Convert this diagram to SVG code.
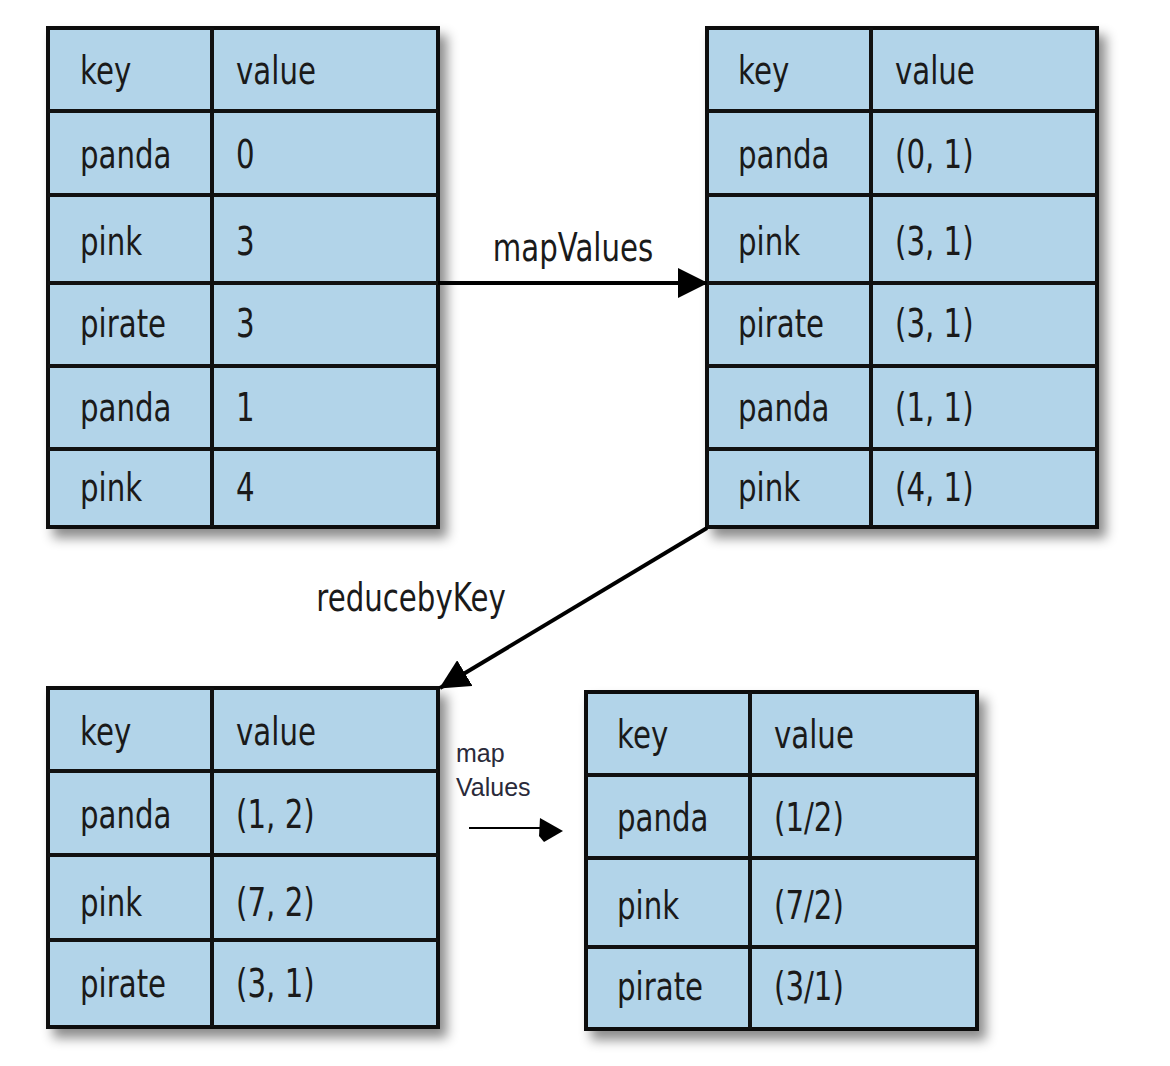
<svg xmlns="http://www.w3.org/2000/svg" width="1170" height="1066" viewBox="0 0 1170 1066">
<defs>
<filter id="sh" x="-10%" y="-10%" width="130%" height="130%">
<feDropShadow dx="7" dy="9" stdDeviation="6" flood-color="#000" flood-opacity="0.45"/>
</filter>
<marker id="ah" markerWidth="30" markerHeight="30" refX="29" refY="15" orient="auto" markerUnits="userSpaceOnUse" viewBox="0 0 30 30">
<path d="M0,0 L30,15 L0,30 Z" fill="#000"/>
</marker>
</defs>
<style>
.cell{fill:#b2d4e9;stroke:#111;stroke-width:4}
.ln{stroke:#111;stroke-width:4}
.t{font-family:"DejaVu Sans",sans-serif;font-size:39px;fill:#1a1a1a}
.lbl{font-family:"DejaVu Sans",sans-serif;font-size:39px;fill:#1a1a1a}
.sm{font-family:"Liberation Sans",Arial,sans-serif;font-size:25px;fill:#2a2a3a}
</style>
<rect width="1170" height="1066" fill="#fff"/>

<g id="table1">
<rect class="cell" x="48" y="28" width="390" height="499" filter="url(#sh)"/>
<line class="ln" x1="212" y1="28" x2="212" y2="527"/>
<line class="ln" x1="48" y1="111" x2="438" y2="111"/>
<line class="ln" x1="48" y1="195" x2="438" y2="195"/>
<line class="ln" x1="48" y1="283" x2="438" y2="283"/>
<line class="ln" x1="48" y1="366" x2="438" y2="366"/>
<line class="ln" x1="48" y1="449" x2="438" y2="449"/>
<g transform="scale(0.75,1)">
<text class="t" x="106.7" y="84">key</text><text class="t" x="314.7" y="84">value</text>
<text class="t" x="106.7" y="168">panda</text><text class="t" x="314.7" y="168">0</text>
<text class="t" x="106.7" y="255">pink</text><text class="t" x="314.7" y="255">3</text>
<text class="t" x="106.7" y="337">pirate</text><text class="t" x="314.7" y="337">3</text>
<text class="t" x="106.7" y="421">panda</text><text class="t" x="314.7" y="421">1</text>
<text class="t" x="106.7" y="501">pink</text><text class="t" x="314.7" y="501">4</text>
</g>
</g>

<g id="table2">
<rect class="cell" x="707" y="28" width="390" height="499" filter="url(#sh)"/>
<line class="ln" x1="871" y1="28" x2="871" y2="527"/>
<line class="ln" x1="707" y1="111" x2="1097" y2="111"/>
<line class="ln" x1="707" y1="195" x2="1097" y2="195"/>
<line class="ln" x1="707" y1="283" x2="1097" y2="283"/>
<line class="ln" x1="707" y1="366" x2="1097" y2="366"/>
<line class="ln" x1="707" y1="449" x2="1097" y2="449"/>
<g transform="scale(0.75,1)">
<text class="t" x="984" y="84">key</text><text class="t" x="1193.3" y="84">value</text>
<text class="t" x="984" y="168">panda</text><text class="t" x="1193.3" y="168">(0, 1)</text>
<text class="t" x="984" y="255">pink</text><text class="t" x="1193.3" y="255">(3, 1)</text>
<text class="t" x="984" y="337">pirate</text><text class="t" x="1193.3" y="337">(3, 1)</text>
<text class="t" x="984" y="421">panda</text><text class="t" x="1193.3" y="421">(1, 1)</text>
<text class="t" x="984" y="501">pink</text><text class="t" x="1193.3" y="501">(4, 1)</text>
</g>
</g>

<g id="table3">
<rect class="cell" x="48" y="688" width="390" height="339" filter="url(#sh)"/>
<line class="ln" x1="212" y1="688" x2="212" y2="1027"/>
<line class="ln" x1="48" y1="771" x2="438" y2="771"/>
<line class="ln" x1="48" y1="855" x2="438" y2="855"/>
<line class="ln" x1="48" y1="940" x2="438" y2="940"/>
<g transform="scale(0.75,1)">
<text class="t" x="106.7" y="745">key</text><text class="t" x="314.7" y="745">value</text>
<text class="t" x="106.7" y="828">panda</text><text class="t" x="314.7" y="828">(1, 2)</text>
<text class="t" x="106.7" y="916">pink</text><text class="t" x="314.7" y="916">(7, 2)</text>
<text class="t" x="106.7" y="997">pirate</text><text class="t" x="314.7" y="997">(3, 1)</text>
</g>
</g>

<g id="table4">
<rect class="cell" x="586" y="692" width="391" height="337" filter="url(#sh)"/>
<line class="ln" x1="750" y1="692" x2="750" y2="1029"/>
<line class="ln" x1="586" y1="775" x2="977" y2="775"/>
<line class="ln" x1="586" y1="858" x2="977" y2="858"/>
<line class="ln" x1="586" y1="947" x2="977" y2="947"/>
<g transform="scale(0.75,1)">
<text class="t" x="822.7" y="748">key</text><text class="t" x="1032" y="748">value</text>
<text class="t" x="822.7" y="831">panda</text><text class="t" x="1032" y="831">(1/2)</text>
<text class="t" x="822.7" y="919">pink</text><text class="t" x="1032" y="919">(7/2)</text>
<text class="t" x="822.7" y="1000">pirate</text><text class="t" x="1032" y="1000">(3/1)</text>
</g>
</g>

<g id="connectors">
<line x1="438" y1="283" x2="707" y2="283" stroke="#000" stroke-width="4" marker-end="url(#ah)"/>
<line x1="707" y1="528" x2="440" y2="688" stroke="#000" stroke-width="4" marker-end="url(#ah)"/>
<g transform="scale(0.75,1)">
<text class="lbl" x="764" y="261" text-anchor="middle">mapValues</text>
<text class="lbl" x="548" y="611" text-anchor="middle">reducebyKey</text>
</g>
<line x1="469" y1="828" x2="545" y2="828" stroke="#000" stroke-width="2"/>
<path d="M540,818 L563,831 L544,842 L539,836 Z" fill="#000"/>
<text class="sm" x="456" y="762">map</text>
<text class="sm" x="456" y="796">Values</text>
</g>
</svg>
